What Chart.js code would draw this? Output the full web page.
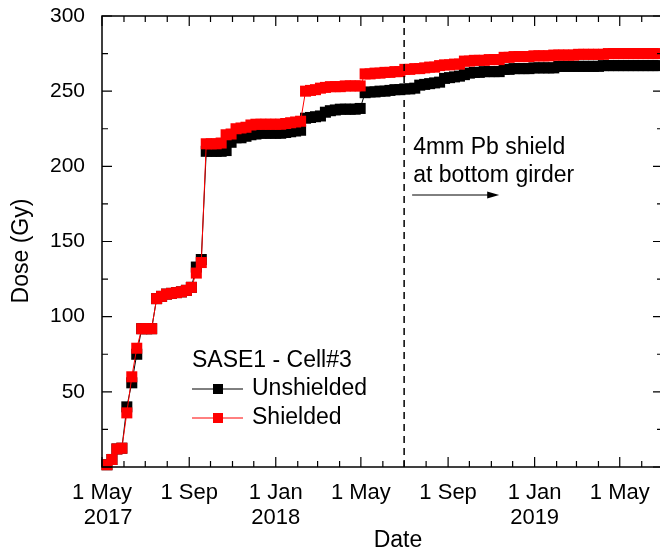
<!DOCTYPE html>
<html>
<head>
<meta charset="utf-8">
<title>SASE1 - Cell#3</title>
<script src="https://cdn.jsdelivr.net/npm/chart.js@4.4.1/dist/chart.umd.min.js"></script>
<style>
  html, body { margin: 0; padding: 0; background: #fff; overflow: hidden; }
  #wrap { width: 660px; height: 553px; overflow: hidden; }
</style>
</head>
<body>
<div id="wrap"><canvas id="dosis" width="666" height="553"></canvas></div>
<script>
// fechas de lectura (semanales) y dosis acumulada en Gy
let fechas = [
  '2017-05-08','2017-05-15','2017-05-22','2017-05-29',
  '2017-06-05','2017-06-12','2017-06-19','2017-06-26',
  '2017-07-03','2017-07-10','2017-07-17','2017-07-24','2017-07-31',
  '2017-08-07','2017-08-14','2017-08-21','2017-08-28',
  '2017-09-04','2017-09-11','2017-09-18','2017-09-25',
  '2017-10-02','2017-10-09','2017-10-16','2017-10-23','2017-10-30',
  '2017-11-06','2017-11-13','2017-11-20','2017-11-27',
  '2017-12-04','2017-12-11','2017-12-18','2017-12-25',
  '2018-01-01','2018-01-08','2018-01-15','2018-01-22','2018-01-29',
  '2018-02-05','2018-02-12','2018-02-19','2018-02-26',
  '2018-03-05','2018-03-12','2018-03-19','2018-03-26',
  '2018-04-02','2018-04-09','2018-04-16','2018-04-23','2018-04-30',
  '2018-05-07','2018-05-14','2018-05-21','2018-05-28',
  '2018-06-04','2018-06-11','2018-06-18','2018-06-25',
  '2018-07-02','2018-07-09','2018-07-16','2018-07-23','2018-07-30',
  '2018-08-06','2018-08-13','2018-08-20','2018-08-27',
  '2018-09-03','2018-09-10','2018-09-17','2018-09-24',
  '2018-10-01','2018-10-08','2018-10-15','2018-10-22','2018-10-29',
  '2018-11-05','2018-11-12','2018-11-19','2018-11-26',
  '2018-12-03','2018-12-10','2018-12-17','2018-12-24','2018-12-31',
  '2019-01-07','2019-01-14','2019-01-21','2019-01-28',
  '2019-02-04','2019-02-11','2019-02-18','2019-02-25',
  '2019-03-04','2019-03-11','2019-03-18','2019-03-25',
  '2019-04-01','2019-04-08','2019-04-15','2019-04-22','2019-04-29',
  '2019-05-06','2019-05-13','2019-05-20','2019-05-27',
  '2019-06-03','2019-06-10','2019-06-17','2019-06-24'
];

let unshielded = [
  1.5, 5, 12, 12.5,
  40, 56, 75, 92,
  92, 92, 112, 113.5, 115,
  115.5, 116, 116.5, 117.5,
  119.5, 133, 138, 210,
  210, 210, 210, 210.5, 216,
  219, 219, 220, 221,
  221.5, 222, 222, 222,
  222, 222, 222.5, 223, 223.5,
  224, 232, 232.5, 233,
  233.5, 236, 237, 237.5,
  238, 238, 238, 238, 238.5,
  249, 249.5, 249.5, 250,
  250, 250.5, 251, 251,
  251.5, 251.5, 252, 254, 254.5,
  255, 255.5, 256, 258.5,
  259, 259.5, 260, 261,
  262, 262.5, 262.5, 263, 263,
  263, 263, 264.5, 264.5,
  265, 265, 265, 265, 265.5,
  265.5, 265.5, 265.5, 265.5,
  266.5, 266.5, 266.5, 266.5,
  266.5, 266.5, 266.5, 266.5,
  266.5, 267, 267, 267, 267,
  267, 267, 267, 267,
  267, 267, 267, 267
];

let shielded = [
  1.5, 5, 12, 12.5,
  36, 60, 79, 92,
  92, 92, 112, 113.5, 115,
  115.5, 116, 116.5, 117.5,
  119.5, 129, 136, 215,
  215, 215, 215.5, 221, 221.5,
  225, 225.5, 226, 227.5,
  228, 228, 228, 228,
  228, 228, 228.5, 229, 229.5,
  230, 250, 250.5, 251,
  252, 252.5, 253, 253,
  253, 253.5, 253.5, 253.5, 253.5,
  261.5, 261.5, 262, 262,
  262.5, 262.5, 263, 263,
  264.5, 264.5, 265, 265, 265.5,
  266, 266, 267, 267.5,
  267.5, 268, 268, 270,
  270, 270.5, 270.5, 270.5, 271,
  271, 271, 272.5, 272.5,
  273, 273, 273, 273, 273.5,
  273.5, 273.5, 273.5, 274,
  274, 274, 274, 274,
  274.5, 274.5, 274.5, 274.5,
  274.5, 274.5, 275, 275, 275,
  275, 275, 275, 275,
  275, 275, 275, 275
];

// etiquetas del eje de fechas
let tickFechas = ['2017-05-01','2017-09-01','2018-01-01','2018-05-01','2018-09-01','2019-01-01','2019-05-01'];
let tickEtiquetas = [['1 May','  2017'], '1 Sep', ['1 Jan','2018'], '1 May', '1 Sep', ['1 Jan','2019'], '1 May'];

let fechaInicio = '2017-05-01';
let fechaFin = '2019-07-01';
let fechaBlindaje = '2018-07-01';   // instalación del blindaje de Pb
let fechaFlecha = '2018-11-12';

let FUENTE = '"Liberation Sans", Arial, sans-serif';
let ORIGEN = Date.UTC(2017, 4, 1);

function diaDe(s){
    let p = s.split('-').map(Number);
    return (Date.UTC(p[0], p[1] - 1, p[2]) - ORIGEN) / 864e5;
}

function puntos(valores){
    return fechas.map((f, i) => ({x: diaDe(f), y: valores[i]}));
}

// marco con marcas hacia dentro, línea de blindaje, leyenda y títulos
let extras = {
    id: 'extras',
    afterDatasetsDraw(chart){
        let ctx = chart.ctx;
        let a = chart.chartArea;
        let xs = chart.scales.x;
        let xb = xs.getPixelForValue(diaDe(fechaBlindaje));

        ctx.save();
        ctx.strokeStyle = '#000';
        ctx.lineWidth = 1.5;
        ctx.setLineDash([7, 5]);
        ctx.beginPath();
        ctx.moveTo(xb, a.top);
        ctx.lineTo(xb, a.bottom);
        ctx.stroke();
        ctx.setLineDash([]);

        ctx.fillStyle = '#000';
        ctx.font = '23px ' + FUENTE;
        ctx.textBaseline = 'middle';
        ctx.textAlign = 'left';
        ctx.fillText('4mm Pb shield', xb + 9, 148);
        ctx.fillText('at bottom girder', xb + 9, 176);

        let xf = xs.getPixelForValue(diaDe(fechaFlecha));
        ctx.lineWidth = 1;
        ctx.beginPath();
        ctx.moveTo(xb + 8, 195);
        ctx.lineTo(xf - 10, 195);
        ctx.stroke();
        ctx.beginPath();
        ctx.moveTo(xf, 195);
        ctx.lineTo(xf - 12, 191.5);
        ctx.lineTo(xf - 12, 198.5);
        ctx.closePath();
        ctx.fill();

        // leyenda
        ctx.fillText('SASE1 - Cell#3', 192, 361);
        let filas = [389, 418];
        [0, 1].forEach(i => {
            let ds = chart.data.datasets[i];
            let y = filas[i];
            ctx.strokeStyle = ds.borderColor;
            ctx.fillStyle = ds.borderColor;
            ctx.lineWidth = 1;
            ctx.beginPath();
            ctx.moveTo(192, y);
            ctx.lineTo(243, y);
            ctx.stroke();
            ctx.fillRect(213, y - 5, 10, 10);
            ctx.fillStyle = '#000';
            ctx.fillText(ds.label, 252, y);
        });
        ctx.restore();
    },
    afterDraw(chart){
        let ctx = chart.ctx;
        let a = chart.chartArea;
        let xs = chart.scales.x;
        let ys = chart.scales.y;

        ctx.save();
        ctx.strokeStyle = '#000';
        ctx.lineWidth = 1.5;
        ctx.strokeRect(a.left, a.top, a.right - a.left, a.bottom - a.top);

        ctx.lineWidth = 1.2;
        ctx.beginPath();
        // marcas mensuales, largas cada cuatro meses
        for(let m = 0; m <= 26; m++){
            let x = xs.getPixelForValue((Date.UTC(2017, 4 + m, 1) - ORIGEN) / 864e5);
            let len = (m % 4 === 0) ? 10 : 6;
            ctx.moveTo(x, a.bottom); ctx.lineTo(x, a.bottom - len);
            ctx.moveTo(x, a.top); ctx.lineTo(x, a.top + len);
        }
        for(let v = 0; v <= 300; v += 25){
            let y = ys.getPixelForValue(v);
            let len = (v % 50 === 0) ? 10 : 6;
            ctx.moveTo(a.left, y); ctx.lineTo(a.left + len, y);
            ctx.moveTo(a.right, y); ctx.lineTo(a.right - len, y);
        }
        ctx.stroke();

        ctx.fillStyle = '#000';
        ctx.font = '23px ' + FUENTE;
        ctx.textAlign = 'center';
        ctx.textBaseline = 'middle';
        ctx.fillText('Date', 398, 541);
        ctx.translate(22, 251);
        ctx.rotate(-Math.PI / 2);
        ctx.fillText('Dose (Gy)', 0, 0);
        ctx.restore();
    }
};

let ctx = document.getElementById('dosis').getContext('2d');

let grafico = new Chart(ctx, {
    type: 'line',
    data: {
        datasets: [{
            label: 'Unshielded',
            data: puntos(unshielded),
            borderColor: '#000000',
            backgroundColor: '#000000',
            borderWidth: 1,
            pointStyle: 'rect',
            pointRadius: 7.8,
            pointBorderWidth: 0,
            order: 2,
            clip: false
        }, {
            label: 'Shielded',
            data: puntos(shielded),
            borderColor: '#ff0000',
            backgroundColor: '#ff0000',
            borderWidth: 1,
            pointStyle: 'rect',
            pointRadius: 7.8,
            pointBorderWidth: 0,
            order: 1,
            clip: false
        }]
    },
    options: {
        responsive: false,
        animation: false,
        layout: { autoPadding: false, padding: { top: 16, right: 3, left: 0, bottom: 0 } },
        plugins: { legend: { display: false }, tooltip: { enabled: false } },
        scales: {
            x: {
                type: 'linear',
                min: diaDe(fechaInicio),
                max: diaDe(fechaFin),
                grid: { display: false },
                border: { display: false },
                afterFit: s => { s.height = 86; s.paddingLeft = 0; s.paddingRight = 0; },
                afterBuildTicks: s => { s.ticks = tickFechas.map(f => ({value: diaDe(f)})); },
                ticks: {
                    autoSkip: false,
                    maxRotation: 0,
                    padding: 5,
                    color: '#000',
                    font: { family: FUENTE, size: 22, lineHeight: 1.14 },
                    callback: (v, i) => tickEtiquetas[i]
                }
            },
            y: {
                min: 0,
                max: 300,
                grid: { display: false },
                border: { display: false },
                afterFit: s => { s.width = 102; s.paddingTop = 0; s.paddingBottom = 0; },
                ticks: {
                    stepSize: 50,
                    padding: 9,
                    color: '#000',
                    font: { family: FUENTE, size: 21 },
                    callback: v => v === 0 ? '' : v
                }
            }
        }
    },
    plugins: [extras]
});
</script>
</body>
</html>
